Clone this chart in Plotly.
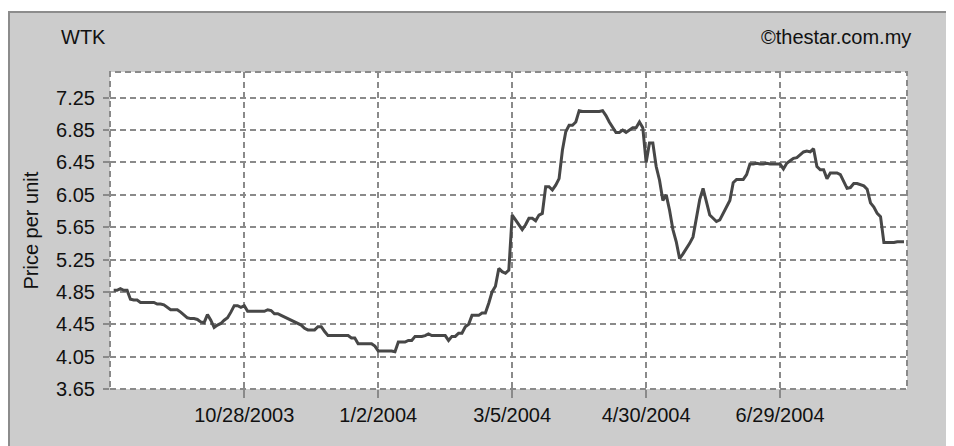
import plotly.graph_objects as go

# ---- data ----
prices = [
    4.87, 4.87, 4.89, 4.87, 4.87, 4.76, 4.75, 4.75, 4.72, 4.72,
    4.72, 4.72, 4.72, 4.70, 4.70, 4.69, 4.66, 4.63, 4.63, 4.63,
    4.60, 4.57, 4.53, 4.52, 4.52, 4.51, 4.48, 4.47, 4.57, 4.50,
    4.41, 4.44, 4.46, 4.50, 4.53, 4.60, 4.68, 4.68, 4.66, 4.68,
    4.61, 4.61, 4.61, 4.61, 4.61, 4.61, 4.63, 4.62, 4.58, 4.58,
    4.56, 4.54, 4.52, 4.49, 4.48, 4.46, 4.44, 4.40, 4.38, 4.38,
    4.38, 4.42, 4.42, 4.36, 4.31, 4.31, 4.31, 4.31, 4.31, 4.31,
    4.31, 4.28, 4.28, 4.21, 4.21, 4.21, 4.21, 4.21, 4.18, 4.12,
    4.12, 4.12, 4.12, 4.12, 4.11, 4.23, 4.23, 4.23, 4.25, 4.25,
    4.30, 4.30, 4.30, 4.31, 4.33, 4.31, 4.31, 4.31, 4.31, 4.31,
    4.25, 4.30, 4.30, 4.34, 4.34, 4.42, 4.45, 4.56, 4.56, 4.56,
    4.59, 4.59, 4.71, 4.85, 4.92, 5.14, 5.10, 5.08, 5.12, 5.80,
    5.74, 5.68, 5.62, 5.68, 5.76, 5.76, 5.73, 5.80, 5.82, 6.15,
    6.15, 6.11, 6.17, 6.25, 6.60, 6.83, 6.91, 6.91, 6.95, 7.09,
    7.08, 7.08, 7.08, 7.08, 7.08, 7.08, 7.09, 7.03, 6.95, 6.88,
    6.82, 6.82, 6.85, 6.82, 6.85, 6.88, 6.88, 6.95, 6.88, 6.45,
    6.69, 6.69, 6.40, 6.23, 5.98, 6.05, 5.86, 5.62, 5.47, 5.26,
    5.32, 5.38, 5.45, 5.53, 5.75, 5.99, 6.13, 5.95, 5.80, 5.76,
    5.72, 5.74, 5.82, 5.92, 5.98, 6.20, 6.24, 6.24, 6.24, 6.30,
    6.43, 6.43, 6.44, 6.43, 6.43, 6.44, 6.43, 6.43, 6.43, 6.43,
    6.37, 6.44, 6.47, 6.50, 6.51, 6.54, 6.58, 6.59, 6.58, 6.62,
    6.40, 6.36, 6.36, 6.25, 6.32, 6.32, 6.32, 6.30, 6.22, 6.13,
    6.14, 6.19, 6.19, 6.17, 6.16, 6.12, 5.95, 5.90, 5.82, 5.78,
    5.46, 5.46, 5.46, 5.46, 5.47, 5.47, 5.47,
]
trading_day = list(range(1, len(prices) + 1))

x_tick_days = [40, 80, 120, 160, 200]
x_tick_labels = ["10/28/2003", "1/2/2004", "3/5/2004", "4/30/2004", "6/29/2004"]
y_tick_values = [3.65, 4.05, 4.45, 4.85, 5.25, 5.65, 6.05, 6.45, 6.85, 7.25]
y_tick_labels = ["3.65", "4.05", "4.45", "4.85", "5.25", "5.65", "6.05", "6.45", "6.85", "7.25"]

title_text = "WTK"
source_text = "©thestar.com.my"
y_title = "Price per unit"

# ---- layout geometry (page coords; the page body adds an 8px offset) ----
OFF = 8
W, H = 954 - OFF, 446 - OFF
PL, PR, PT, PB = 110, 907, 72, 389          # plot box in page pixels
L, T = PL - OFF, PT - OFF
R = W - (PR - OFF)
B = H - (PB - OFF)
pw, ph = W - L - R, H - T - B

def px_x(p):
    return (p - OFF - L) / pw

def px_y(p):
    return (H - B - (p - OFF)) / ph

FONT = "Liberation Sans, Arial, sans-serif"
GRID = "#8a8a8a"

fig = go.Figure()
fig.add_trace(go.Scatter(
    x=trading_day, y=prices, mode="lines",
    line=dict(color="#474747", width=3),
    hoverinfo="skip", showlegend=False,
))

fig.update_layout(
    width=W, height=H,
    margin=dict(l=L, r=R, t=T, b=B, pad=0),
    paper_bgcolor="#cccccc",
    plot_bgcolor="#ffffff",
    font=dict(family=FONT, size=20, color="#111111"),
    showlegend=False,
    xaxis=dict(
        range=[-0.1, 237.9],
        tickmode="array", tickvals=x_tick_days, ticktext=x_tick_labels,
        showgrid=True, gridcolor=GRID, gridwidth=2, griddash="6px,4px",
        ticks="outside", ticklen=8, tickwidth=2, tickcolor=GRID,
        ticklabelstandoff=0,
        showline=False, zeroline=False,
        tickfont=dict(family=FONT, size=20, color="#111111"),
    ),
    yaxis=dict(
        range=[3.65, 7.568],
        tickmode="array", tickvals=y_tick_values, ticktext=y_tick_labels,
        showgrid=True, gridcolor=GRID, gridwidth=2, griddash="6px,4px",
        ticks="outside", ticklen=6, tickwidth=2, tickcolor=GRID,
        ticklabelstandoff=4,
        showline=False, zeroline=False,
        tickfont=dict(family=FONT, size=20, color="#111111"),
    ),
)

shapes = [
    # white margin above the gray panel
    dict(type="rect", xref="paper", yref="paper", x0=px_x(0), x1=px_x(970),
         y0=px_y(11), y1=px_y(0), fillcolor="#ffffff", line=dict(width=0), layer="above"),
    # panel border
    dict(type="line", xref="paper", yref="paper", x0=px_x(7), x1=px_x(970),
         y0=px_y(12), y1=px_y(12), line=dict(color="#8c8c8c", width=2), layer="above"),
    dict(type="line", xref="paper", yref="paper", x0=px_x(9), x1=px_x(9),
         y0=px_y(11), y1=px_y(460), line=dict(color="#8c8c8c", width=2), layer="above"),
    # dashed plot frame
    dict(type="rect", xref="paper", yref="paper", x0=0, x1=1, y0=0, y1=1,
         line=dict(color=GRID, width=2, dash="6px,4px"), layer="above"),
]
fig.update_layout(shapes=shapes)

fig.add_annotation(text=title_text, xref="paper", yref="paper",
                   x=px_x(59), y=px_y(37), xanchor="left", yanchor="middle",
                   showarrow=False, font=dict(family=FONT, size=20, color="#111111"))
fig.add_annotation(text=source_text, xref="paper", yref="paper",
                   x=px_x(913), y=px_y(37), xanchor="right", yanchor="middle",
                   showarrow=False, font=dict(family=FONT, size=20, color="#111111"))
fig.add_annotation(text=y_title, xref="paper", yref="paper",
                   x=px_x(30), y=0.5, xanchor="center", yanchor="middle", textangle=-90,
                   showarrow=False, font=dict(family=FONT, size=20, color="#111111"))

fig.write_html("out.html")
